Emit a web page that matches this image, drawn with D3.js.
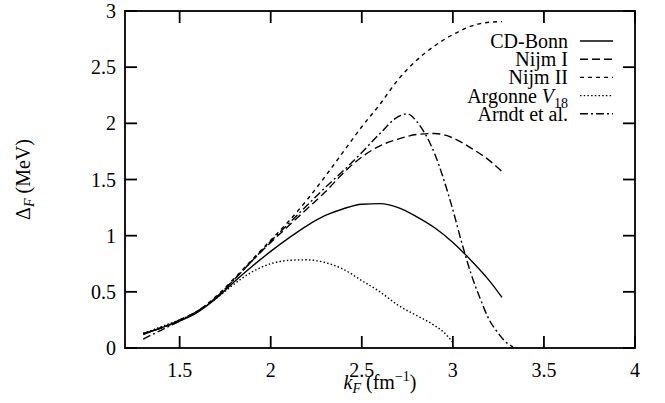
<!DOCTYPE html>
<html>
<head>
<meta charset="utf-8">
<script src="https://d3js.org/d3.v7.min.js"></script>
</head>
<body style="margin:0">
<svg width="665" height="403"></svg>
<script>
// data: k_F (fm^-1) vs Delta_F (MeV)
const kGrid = [1.3, 1.4, 1.5, 1.6, 1.7, 1.8, 1.9, 2.0, 2.1, 2.2, 2.3, 2.4, 2.5, 2.6, 2.7, 2.8, 2.9, 3.0, 3.1, 3.2, 3.27];
const cdBonn = [0.12, 0.18, 0.24, 0.32, 0.44, 0.59, 0.73, 0.86, 0.98, 1.09, 1.18, 1.24, 1.28, 1.285, 1.25, 1.17, 1.07, 0.94, 0.78, 0.60, 0.45];
const nijm1  = [0.13, 0.18, 0.25, 0.33, 0.45, 0.61, 0.78, 0.94, 1.09, 1.24, 1.39, 1.56, 1.70, 1.80, 1.86, 1.90, 1.91, 1.87, 1.78, 1.67, 1.57];
const nijm2  = [0.13, 0.18, 0.25, 0.33, 0.46, 0.62, 0.79, 0.96, 1.13, 1.32, 1.53, 1.75, 1.97, 2.17, 2.39, 2.56, 2.69, 2.79, 2.865, 2.90, 2.905];

const kArgonne = [1.3, 1.4, 1.5, 1.6, 1.7, 1.8, 1.9, 2.0, 2.1, 2.2, 2.3, 2.4, 2.5, 2.6, 2.7, 2.8, 2.9, 2.95, 3.0];
const argonne  = [0.13, 0.19, 0.25, 0.33, 0.44, 0.57, 0.68, 0.75, 0.78, 0.785, 0.76, 0.70, 0.60, 0.50, 0.38, 0.29, 0.20, 0.14, 0.05];

const kArndt = [1.3, 1.4, 1.5, 1.6, 1.7, 1.8, 1.9, 2.0, 2.1, 2.2, 2.3, 2.4, 2.5, 2.6, 2.7, 2.75, 2.8, 2.85, 2.9, 2.95, 3.0, 3.05, 3.1, 3.15, 3.2, 3.25, 3.28, 3.33];
const arndt  = [0.08, 0.16, 0.24, 0.33, 0.45, 0.61, 0.78, 0.95, 1.11, 1.27, 1.43, 1.58, 1.74, 1.91, 2.06, 2.085, 2.02, 1.90, 1.73, 1.50, 1.23, 0.93, 0.66, 0.44, 0.25, 0.13, 0.07, 0.01];

const xTicks = [1.5, 2, 2.5, 3, 3.5, 4];
const yTicks = [0, 0.5, 1, 1.5, 2, 2.5, 3];

const series = [
  {name: "CD-Bonn",      k: kGrid,    v: cdBonn,  dash: null},
  {name: "Nijm I",       k: kGrid,    v: nijm1,   dash: "8,4"},
  {name: "Nijm II",      k: kGrid,    v: nijm2,   dash: "4,4"},
  {name: "Argonne",      k: kArgonne, v: argonne, dash: "1.5,2.2"},
  {name: "Arndt et al.", k: kArndt,   v: arndt,   dash: "8,3,2,3"}
];

const FONT = "\"Liberation Serif\"";

const svg = d3.select("svg");
const margin = {top: 11, right: 30, bottom: 55, left: 125};
const width = 665, height = 403;

const x = d3.scaleLinear().domain([1.2, 4]).range([margin.left, width - margin.right]);
const y = d3.scaleLinear().domain([0, 3]).range([height - margin.bottom, margin.top]);

const tick = 12;

// frame
svg.append("rect")
   .attr("x", x(1.2)).attr("y", y(3))
   .attr("width", x(4) - x(1.2)).attr("height", y(0) - y(3))
   .attr("fill", "none").attr("stroke", "#000").attr("stroke-width", 1.8);

// tick marks, inward on all four sides
const tickG = svg.append("g").attr("stroke", "#000").attr("stroke-width", 1.8);
xTicks.forEach(v => {
  tickG.append("line").attr("x1", x(v)).attr("x2", x(v)).attr("y1", y(0)).attr("y2", y(0) - tick);
  tickG.append("line").attr("x1", x(v)).attr("x2", x(v)).attr("y1", y(3)).attr("y2", y(3) + tick);
});
yTicks.forEach(v => {
  tickG.append("line").attr("x1", x(1.2)).attr("x2", x(1.2) + tick).attr("y1", y(v)).attr("y2", y(v));
  tickG.append("line").attr("x1", x(4)).attr("x2", x(4) - tick).attr("y1", y(v)).attr("y2", y(v));
});

// tick labels
svg.append("g").selectAll("text")
   .data(xTicks).enter().append("text")
   .attr("x", d => x(d)).attr("y", y(0) + 29)
   .attr("text-anchor", "middle")
   .style("font-family", FONT).style("font-size", "20px")
   .text(d => d);
svg.append("g").selectAll("text")
   .data(yTicks).enter().append("text")
   .attr("x", x(1.2) - 9).attr("y", d => y(d)).attr("dy", "0.35em")
   .attr("text-anchor", "end")
   .style("font-family", FONT).style("font-size", "20px")
   .text(d => d);

// curves
const line = d3.line()
   .x(d => x(d[0]))
   .y(d => y(d[1]))
   .curve(d3.curveMonotoneX);

series.forEach(s => {
  const pts = s.k.map((k, i) => [k, s.v[i]]);
  svg.append("path")
     .datum(pts)
     .attr("d", line)
     .attr("fill", "none")
     .attr("stroke", "#000")
     .attr("stroke-width", 1.4)
     .attr("stroke-dasharray", s.dash);
});

// legend
const legend = svg.append("g").attr("transform", "translate(568,41)");
series.forEach((s, i) => {
  const row = legend.append("g").attr("transform", `translate(0,${i * 18.2})`);
  const t = row.append("text")
     .attr("x", 0).attr("y", 0).attr("dy", "0.35em")
     .attr("text-anchor", "end")
     .style("font-family", FONT).style("font-size", "20px");
  if (s.name === "Argonne") {
    t.append("tspan").text("Argonne ");
    t.append("tspan").style("font-style", "italic").text("V");
    t.append("tspan").attr("dy", 5).style("font-size", "14px").text("18");
  } else {
    t.text(s.name);
  }
  row.append("line")
     .attr("x1", 12).attr("x2", 45)
     .attr("stroke", "#000").attr("stroke-width", 1.4)
     .attr("stroke-dasharray", s.dash);
});

// axis titles
const xt = svg.append("text")
   .attr("x", (x(1.2) + x(4)) / 2).attr("y", 389)
   .attr("text-anchor", "middle")
   .style("font-family", FONT).style("font-size", "20px");
xt.append("tspan").style("font-style", "italic").text("k");
xt.append("tspan").attr("dy", 4).style("font-size", "14px").style("font-style", "italic").text("F");
xt.append("tspan").attr("dy", -4).text(" (fm");
xt.append("tspan").attr("dy", -8).style("font-size", "14px").text("\u22121");
xt.append("tspan").attr("dy", 8).text(")");

const yt = svg.append("text")
   .attr("transform", `translate(30,${(y(0) + y(3)) / 2}) rotate(-90)`)
   .attr("text-anchor", "middle")
   .style("font-family", FONT).style("font-size", "20px");
yt.append("tspan").text("\u0394");
yt.append("tspan").attr("dy", 4).style("font-size", "14px").style("font-style", "italic").text("F");
yt.append("tspan").attr("dy", -4).text(" (MeV)");
</script>
</body>
</html>
